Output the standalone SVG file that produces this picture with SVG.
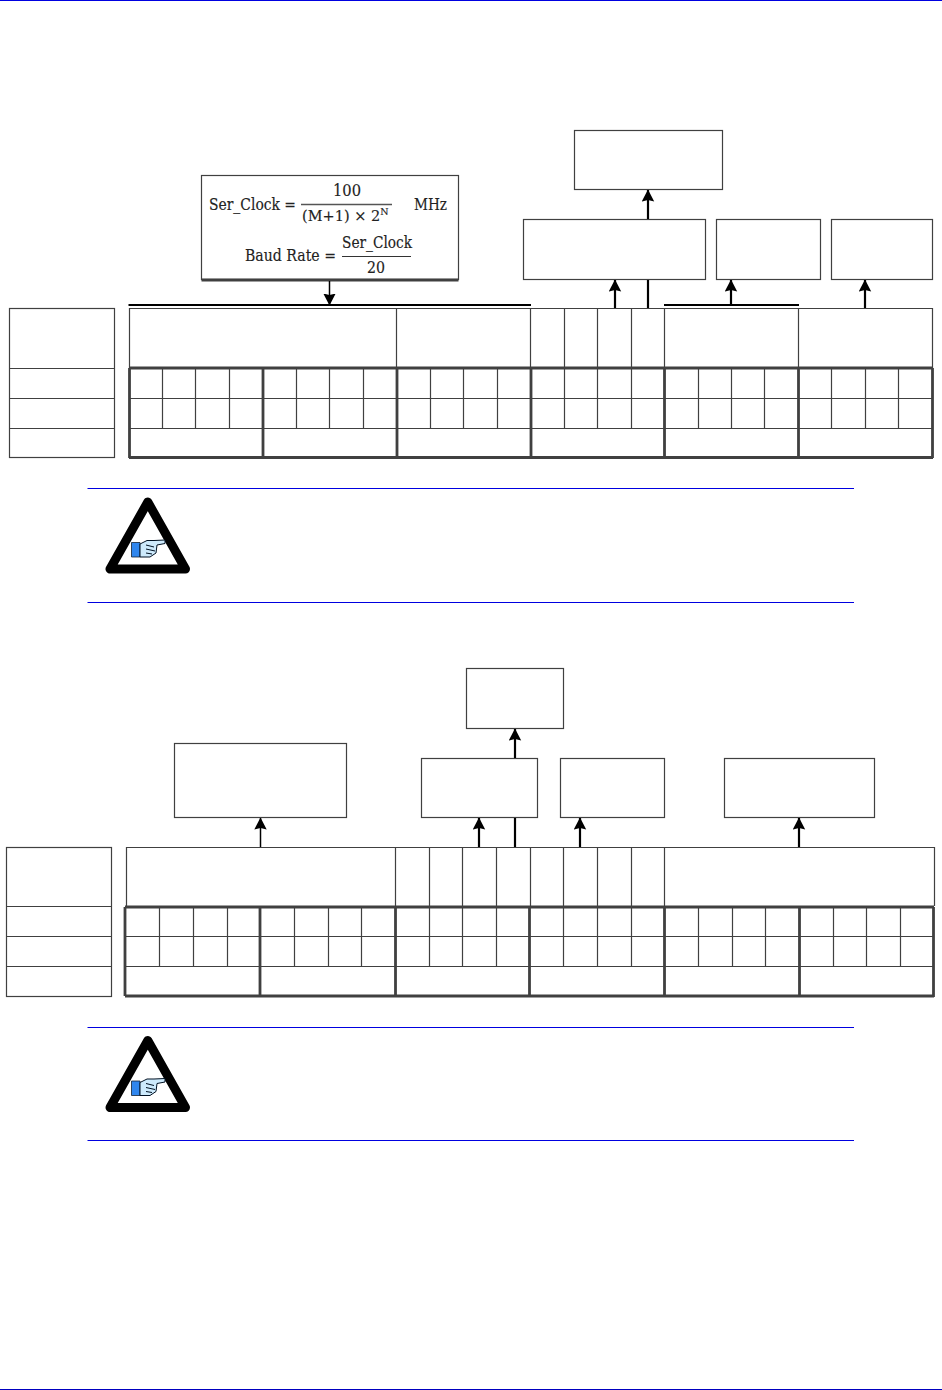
<svg xmlns="http://www.w3.org/2000/svg" width="942" height="1390" viewBox="0 0 942 1390">
<style>
.b{fill:#fff;stroke:#404040;stroke-width:1.2}
.t{fill:none;stroke:#404040;stroke-width:1.2}
.k{fill:none;stroke:#404040;stroke-width:2.8}
.c{fill:none;stroke:#000;stroke-width:2.2}
.c1{fill:none;stroke:#000;stroke-width:1.5}
.r{fill:none;stroke:#0000e0;stroke-width:1}
.f{font-family:"DejaVu Serif","Liberation Serif",serif;font-size:16px;fill:#222;stroke:#222;stroke-width:.15}
</style>
<defs>
<marker id="a" viewBox="0 0 12 13" refX="11.500" refY="6.500" markerUnits="userSpaceOnUse" markerWidth="12" markerHeight="13" orient="auto"><path d="M0 0.300L12 6.500L0 12.700L1.500 6.500z" fill="#000"/></marker>
<g id="warn">
<path d="M147.800 502L110 569H185.500z" fill="#fff" stroke="#000" stroke-width="9" stroke-linejoin="round"/>
<path d="M131.500 542.500H140V557H131.500z" fill="#2f86ee" stroke="#123" stroke-width=".8"/>
<path d="M140 544L147 540.500L154 540.500L165 540V543.500L157 545L156 553L150 557H140z" fill="#cdeafc" stroke="#012" stroke-width="1"/>
<path d="M146 545L154 547M146 549L155 551M146 553L152 554" fill="none" stroke="#012" stroke-width="1"/>
</g>
</defs>
<rect id="frame-top" x="0" y="0" width="942" height="1" fill="#0000e0"/>
<rect id="frame-bottom" x="0" y="1389" width="942" height="1" fill="#0000c0"/>

<g id="formula-box"><rect class="b" x="201.500" y="175.500" width="257" height="104"/>
<path d="M201.500 280H458.500" class="k"/>
<text class="f" x="209" y="210" textLength="87" lengthAdjust="spacingAndGlyphs">Ser_Clock =</text>
<text class="f" x="333" y="196" textLength="28" lengthAdjust="spacingAndGlyphs">100</text>
<path d="M301 204.500H392" stroke="#555" stroke-width="1.400" fill="none"/>
<text class="f" x="302" y="221" style="font-size:14.5px">(M+1) × 2<tspan dy="-6" style="font-size:9.5px">N</tspan></text>
<text class="f" x="414" y="210" textLength="33" lengthAdjust="spacingAndGlyphs">MHz</text>
<text class="f" x="245" y="261" textLength="91" lengthAdjust="spacingAndGlyphs">Baud Rate =</text>
<text class="f" x="342" y="248" textLength="70" lengthAdjust="spacingAndGlyphs">Ser_Clock</text>
<path d="M342 256.500H411" stroke="#333" stroke-width="1" fill="none"/>
<text class="f" x="367" y="273" textLength="18" lengthAdjust="spacingAndGlyphs">20</text>
</g>

<g id="top-boxes">
<rect id="n-t1" class="b" x="574.500" y="130.500" width="148" height="59"/>
<rect id="n-t2" class="b" x="523.500" y="219.500" width="182" height="60"/>
<rect id="n-t3" class="b" x="716.500" y="219.500" width="104" height="60"/>
<rect id="n-t4" class="b" x="831.500" y="219.500" width="101" height="60"/>
</g>

<g id="top-table">
<rect class="t" x="9.500" y="308.500" width="105" height="149"/>
<path class="t" d="M9.500 368.500H114.500M9.500 398.500H114.500M9.500 428.500H114.500"/>
<path class="t" d="M129.500 368V308.500H932.500V368M396.500 308.500V368M530.500 308.500V368M564.500 308.500V368M597.500 308.500V368M631.500 308.500V368M664.500 308.500V368M798.500 308.500V368"/>
<path class="t" d="M129.500 398.500H932M129.500 428.500H932"/>
<path class="t" d="M162.500 368V428.500M195.500 368V428.500M229.500 368V428.500M296.500 368V428.500M329.500 368V428.500M363.500 368V428.500M430.500 368V428.500M463.500 368V428.500M497.500 368V428.500M564.500 368V428.500M597.500 368V428.500M631.500 368V428.500M698.500 368V428.500M731.500 368V428.500M764.500 368V428.500M831.500 368V428.500M865.500 368V428.500M898.500 368V428.500"/>
<path class="k" d="M129 368H933M129 457.500H933M932.500 368V458M129.500 368V458M263 368V458M397 368V458M531 368V458M664.500 368V458M798.500 368V458"/>
</g>

<g id="bottom-boxes">
<rect id="n-b1" class="b" x="466.500" y="668.500" width="97" height="60"/>
<rect id="n-b2" class="b" x="174.500" y="743.500" width="172" height="74"/>
<rect id="n-b3" class="b" x="421.500" y="758.500" width="116" height="59"/>
<rect id="n-b4" class="b" x="560.500" y="758.500" width="104" height="59"/>
<rect id="n-b5" class="b" x="724.500" y="758.500" width="150" height="59"/>
</g>

<g id="bottom-table">
<rect class="t" x="6.500" y="847.500" width="105" height="149"/>
<path class="t" d="M6.500 906.500H111.500M6.500 936.500H111.500M6.500 966.500H111.500"/>
<path class="t" d="M126.500 906V847.500H934.500V906M395.500 847.500V906M429.500 847.500V906M462.500 847.500V906M496.500 847.500V906M530.500 847.500V906M563.500 847.500V906M597.500 847.500V906M631.500 847.500V906M664.500 847.500V906"/>
<path class="t" d="M126 936.500H933M126 966.500H933"/>
<path class="t" d="M159.500 907V966.500M193.500 907V966.500M227.500 907V966.500M294.500 907V966.500M328.500 907V966.500M361.500 907V966.500M429.500 907V966.500M462.500 907V966.500M496.500 907V966.500M563.500 907V966.500M597.500 907V966.500M631.500 907V966.500M698.500 907V966.500M732.500 907V966.500M765.500 907V966.500M833.500 907V966.500M866.500 907V966.500M900.500 907V966.500"/>
<path class="k" d="M125 907H934M125 996H934M125 907V996M933.500 907V997M260 907V996M395.500 907V996M529.500 907V996M664.500 907V996M799.500 907V996"/>
</g>

<g id="connectors">
<path class="c" d="M128.500 305H531M664 305H799"/>
<path class="c1" d="M329.500 281V305" marker-end="url(#a)"/>
<path class="c" d="M648 219V190" marker-end="url(#a)"/>
<path class="c" d="M615 308V280" marker-end="url(#a)"/>
<path class="c" d="M648 308V280"/>
<path class="c" d="M731 305V280" marker-end="url(#a)"/>
<path class="c" d="M865 308V280" marker-end="url(#a)"/>
<path class="c1" d="M260.500 847V818" marker-end="url(#a)"/>
<path class="c" d="M515 758V729" marker-end="url(#a)"/>
<path class="c" d="M479 847V818" marker-end="url(#a)"/>
<path class="c" d="M515 847V818"/>
<path class="c" d="M580 847V818" marker-end="url(#a)"/>
<path class="c" d="M799 847V818" marker-end="url(#a)"/>
</g>

<g id="note-1">
<path class="r" d="M87.500 488.500H854M87.500 602.500H854"/>
<use href="#warn"/>
</g>
<g id="note-2">
<path class="r" d="M87.500 1027.500H854M87.500 1140.500H854"/>
<use href="#warn" y="538.500"/>
</g>
</svg>
